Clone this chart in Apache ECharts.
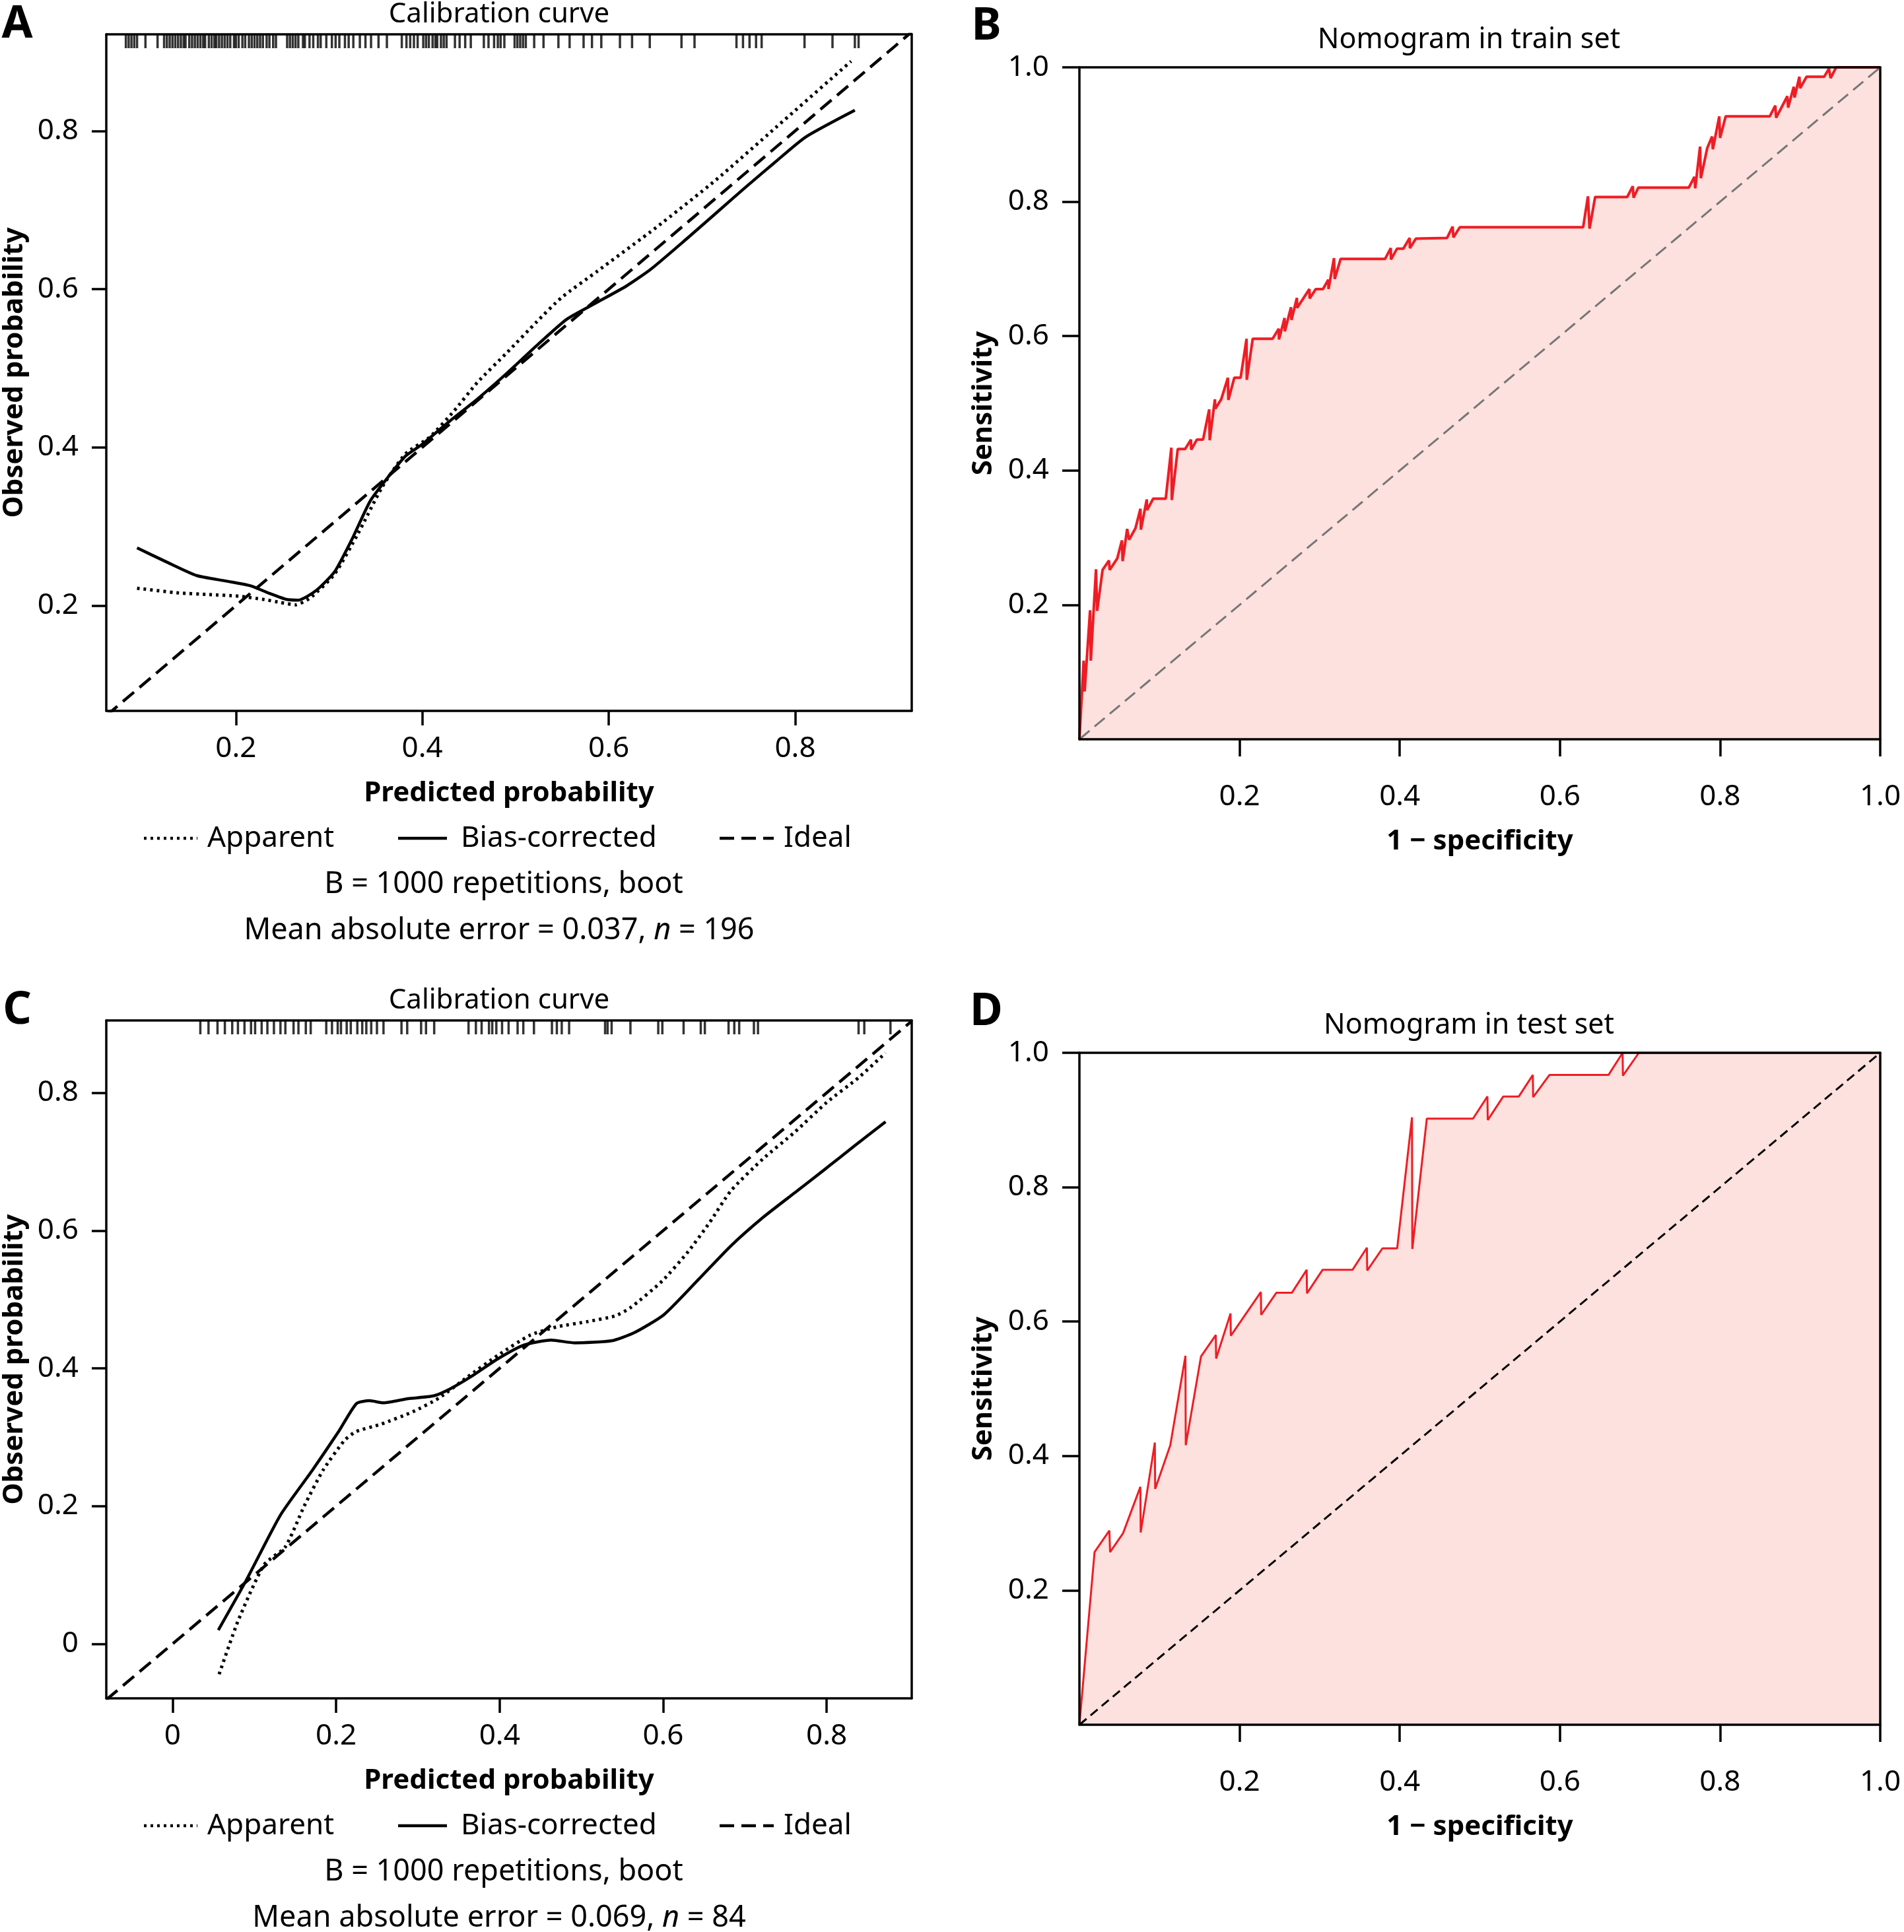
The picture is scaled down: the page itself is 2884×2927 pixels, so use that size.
<!DOCTYPE html>
<html>
<head>
<meta charset="UTF-8">
<title>Calibration and ROC</title>
<script src="https://cdn.jsdelivr.net/npm/echarts@6/dist/echarts.min.js"></script>
<style>
  html, body { margin: 0; background: #fff; }
  #chart { width: 2884px; height: 2927px; }
</style>
</head>
<body>
<div id="chart"></div>
<script>
// calibration curves, [predicted, observed]
const trainApparent = [[0.094,0.222],[0.139,0.216],[0.171,0.214],[0.203,0.212],[0.229,0.208],[0.248,0.204],[0.264,0.201],[0.280,0.210],[0.306,0.240],[0.331,0.291],[0.357,0.350],[0.382,0.392],[0.408,0.413],[0.434,0.446],[0.459,0.482],[0.491,0.520],[0.523,0.559],[0.549,0.589],[0.587,0.622],[0.651,0.678],[0.715,0.738],[0.779,0.804],[0.860,0.888]];
const trainBiasCorrected = [[0.094,0.273],[0.126,0.255],[0.158,0.238],[0.190,0.231],[0.216,0.225],[0.235,0.216],[0.254,0.208],[0.267,0.207],[0.286,0.219],[0.306,0.243],[0.325,0.285],[0.344,0.332],[0.363,0.362],[0.382,0.389],[0.400,0.404],[0.427,0.431],[0.459,0.461],[0.491,0.494],[0.523,0.529],[0.555,0.562],[0.587,0.583],[0.619,0.604],[0.645,0.625],[0.683,0.663],[0.715,0.696],[0.747,0.729],[0.779,0.761],[0.811,0.792],[0.864,0.826]];
const testApparent = [[0.057,-0.044],[0.080,0.033],[0.112,0.115],[0.138,0.141],[0.161,0.200],[0.184,0.252],[0.210,0.295],[0.224,0.308],[0.255,0.319],[0.294,0.337],[0.326,0.357],[0.359,0.386],[0.398,0.419],[0.437,0.448],[0.469,0.460],[0.508,0.468],[0.541,0.476],[0.560,0.488],[0.599,0.527],[0.631,0.570],[0.657,0.612],[0.683,0.658],[0.722,0.704],[0.761,0.743],[0.800,0.786],[0.839,0.822],[0.872,0.858]];
const testBiasCorrected = [[0.056,0.020],[0.090,0.092],[0.132,0.187],[0.171,0.252],[0.203,0.308],[0.225,0.349],[0.241,0.353],[0.258,0.350],[0.288,0.356],[0.319,0.360],[0.339,0.370],[0.365,0.388],[0.398,0.414],[0.430,0.434],[0.463,0.441],[0.492,0.437],[0.537,0.440],[0.565,0.452],[0.601,0.478],[0.644,0.530],[0.683,0.578],[0.722,0.619],[0.761,0.655],[0.800,0.691],[0.834,0.723],[0.872,0.758]];

// predicted probabilities drawn as a rug along the top
const trainRug = [0.082,0.085,0.088,0.091,0.094,0.103,0.116,0.123,0.126,0.129,0.132,0.135,0.138,0.141,0.144,0.146,0.150,0.153,0.156,0.159,0.162,0.165,0.167,0.171,0.174,0.177,0.179,0.182,0.185,0.188,0.191,0.194,0.198,0.200,0.203,0.207,0.210,0.214,0.217,0.220,0.223,0.226,0.229,0.233,0.236,0.240,0.243,0.255,0.258,0.261,0.264,0.267,0.272,0.274,0.279,0.283,0.288,0.291,0.297,0.303,0.307,0.311,0.317,0.321,0.326,0.333,0.339,0.345,0.353,0.362,0.378,0.383,0.387,0.391,0.395,0.401,0.404,0.407,0.411,0.414,0.416,0.420,0.423,0.426,0.435,0.440,0.446,0.452,0.466,0.471,0.477,0.481,0.484,0.488,0.499,0.502,0.505,0.508,0.511,0.520,0.530,0.546,0.558,0.573,0.582,0.592,0.612,0.625,0.644,0.678,0.692,0.737,0.744,0.751,0.758,0.764,0.810,0.840,0.864,0.868];
const testRug = [0.034,0.044,0.055,0.064,0.073,0.080,0.088,0.096,0.101,0.109,0.116,0.124,0.132,0.138,0.148,0.154,0.163,0.169,0.188,0.195,0.202,0.206,0.213,0.218,0.226,0.232,0.237,0.243,0.250,0.258,0.280,0.287,0.304,0.310,0.320,0.362,0.371,0.378,0.387,0.391,0.396,0.403,0.411,0.422,0.429,0.442,0.464,0.470,0.476,0.485,0.529,0.532,0.537,0.560,0.594,0.599,0.625,0.646,0.651,0.680,0.687,0.693,0.711,0.716,0.839,0.846,0.878];

// ROC curves, [1 - specificity, sensitivity]
const trainRoc = [[0,0],[0.0053,0.117],[0.0065,0.071],[0.0133,0.192],[0.0142,0.117],[0.0207,0.253],[0.0221,0.191],[0.0289,0.252],[0.0369,0.266],[0.0378,0.252],[0.0472,0.269],[0.0531,0.296],[0.0540,0.265],[0.0596,0.313],[0.0620,0.297],[0.0700,0.314],[0.0762,0.343],[0.0768,0.312],[0.0841,0.357],[0.0845,0.341],[0.0921,0.358],[0.1078,0.358],[0.1148,0.434],[0.1154,0.356],[0.1228,0.432],[0.1320,0.432],[0.1393,0.446],[0.1396,0.431],[0.1467,0.446],[0.1544,0.446],[0.1621,0.491],[0.1627,0.445],[0.1692,0.506],[0.1697,0.492],[0.1771,0.506],[0.1854,0.538],[0.1860,0.505],[0.1934,0.538],[0.2013,0.538],[0.2087,0.596],[0.2090,0.535],[0.2164,0.596],[0.2412,0.596],[0.2489,0.611],[0.2492,0.595],[0.2562,0.627],[0.2565,0.607],[0.2642,0.643],[0.2648,0.624],[0.2716,0.657],[0.2719,0.642],[0.2872,0.670],[0.2875,0.656],[0.2952,0.670],[0.3041,0.670],[0.3108,0.684],[0.3111,0.670],[0.3179,0.716],[0.3188,0.685],[0.3262,0.715],[0.3817,0.715],[0.3888,0.731],[0.3891,0.714],[0.3965,0.730],[0.4044,0.730],[0.4124,0.746],[0.4127,0.731],[0.4201,0.745],[0.459,0.746],[0.466,0.763],[0.467,0.747],[0.475,0.762],[0.629,0.762],[0.635,0.808],[0.637,0.760],[0.644,0.807],[0.684,0.807],[0.691,0.823],[0.692,0.806],[0.698,0.821],[0.761,0.821],[0.768,0.837],[0.769,0.820],[0.775,0.882],[0.776,0.835],[0.784,0.880],[0.790,0.897],[0.791,0.878],[0.799,0.927],[0.800,0.895],[0.807,0.927],[0.862,0.927],[0.869,0.943],[0.870,0.925],[0.884,0.957],[0.885,0.940],[0.892,0.971],[0.893,0.955],[0.899,0.986],[0.900,0.969],[0.908,0.986],[0.930,0.986],[0.936,0.998],[0.938,0.984],[0.945,1],[1,1]];
const testRoc = [[0,0],[0.0189,0.257],[0.0374,0.289],[0.0383,0.257],[0.0545,0.285],[0.0761,0.354],[0.0765,0.286],[0.0942,0.420],[0.0946,0.351],[0.1135,0.416],[0.1324,0.549],[0.1328,0.416],[0.1518,0.548],[0.1703,0.580],[0.1707,0.545],[0.1887,0.612],[0.1891,0.579],[0.2266,0.644],[0.2270,0.610],[0.2460,0.643],[0.2654,0.643],[0.2838,0.677],[0.2842,0.642],[0.3036,0.677],[0.3410,0.677],[0.3590,0.710],[0.3594,0.676],[0.3784,0.709],[0.3968,0.709],[0.4153,0.904],[0.4157,0.708],[0.4338,0.902],[0.4915,0.902],[0.5095,0.935],[0.5099,0.900],[0.5293,0.935],[0.5487,0.935],[0.5662,0.967],[0.5666,0.934],[0.5869,0.967],[0.6607,0.967],[0.6783,1],[0.6787,0.966],[0.6986,1],[1,1]];

const trainStats = ['AUC = 0.712', 'AUC 95% CI: 0.63\u20130.793', 'Best threshold = 0.312', 'Youden Index = 0.399', 'Sensitivity = 0.716', 'Specificity = 0.682'];
const testStats = ['AUC = 0.794', 'AUC 95% CI: 0.699\u20130.889', 'Best threshold = 0.242', 'Youden Index = 0.488', 'Sensitivity = 0.903', 'Specificity = 0.585'];

// axis ticks and ranges
const trainCalTicks = [0.2, 0.4, 0.6, 0.8];
const testCalTicks = [0, 0.2, 0.4, 0.6, 0.8];
const rocTicks = [0.2, 0.4, 0.6, 0.8, 1.0];
const trainCalX = [0.061, 0.925], trainCalY = [0.067, 0.922];
const testCalX = [-0.081, 0.904], testCalY = [-0.079, 0.905];
const rocRange = [0, 1];

const FONT = '"Noto Sans", "DejaVu Sans", sans-serif';

// A, B, C, D
const grids = [
  { left: 161, top: 52, width: 1220, height: 1025 },
  { left: 1635, top: 102, width: 1213, height: 1018 },
  { left: 161, top: 1546, width: 1220, height: 1027 },
  { left: 1635, top: 1595, width: 1213, height: 1018 }
];

const panels = [
  { x: trainCalX, y: trainCalY, xt: trainCalTicks, yt: trainCalTicks, xName: 'Predicted probability', yName: 'Observed probability', tick: 22, xm: 35, ym: 42, xg: 104, yg: 118 },
  { x: rocRange, y: rocRange, xt: rocTicks, yt: rocTicks, xName: '1 \u2212 specificity', yName: 'Sensitivity', tick: 26, xm: 65, ym: 46, xg: 134, yg: 124 },
  { x: testCalX, y: testCalY, xt: testCalTicks, yt: testCalTicks, xName: 'Predicted probability', yName: 'Observed probability', tick: 22, xm: 35, ym: 42, xg: 104, yg: 118 },
  { x: rocRange, y: rocRange, xt: rocTicks, yt: rocTicks, xName: '1 \u2212 specificity', yName: 'Sensitivity', tick: 26, xm: 65, ym: 46, xg: 134, yg: 124 }
];

function fmt(v) { return v === 0 ? '0' : v.toFixed(1); }

function mainAxis(dim, g, p) {
  const isX = dim === 'x';
  const ticks = isX ? p.xt : p.yt;
  return {
    type: 'value', gridIndex: g, position: isX ? 'bottom' : 'left',
    min: isX ? p.x[0] : p.y[0], max: isX ? p.x[1] : p.y[1], z: 5,
    splitLine: { show: false },
    axisLine: { show: true, onZero: false, lineStyle: { color: '#000', width: 3.5 } },
    axisTick: { show: true, customValues: ticks, length: p.tick, lineStyle: { color: '#000', width: 3.5 } },
    axisLabel: { show: true, customValues: ticks, formatter: fmt, margin: isX ? p.xm : p.ym, fontSize: 44, fontFamily: FONT, color: '#000' },
    name: isX ? p.xName : p.yName, nameLocation: 'middle', nameGap: isX ? p.xg : p.yg,
    nameRotate: isX ? 0 : 90,
    nameTextStyle: { fontSize: 42, fontWeight: 'bold', fontFamily: FONT, color: '#000' }
  };
}

function boxAxis(dim, g, p) {
  const isX = dim === 'x';
  return {
    type: 'value', gridIndex: g, position: isX ? 'top' : 'right',
    min: isX ? p.x[0] : p.y[0], max: isX ? p.x[1] : p.y[1], z: 5,
    splitLine: { show: false }, axisTick: { show: false }, axisLabel: { show: false },
    axisLine: { show: true, onZero: false, lineStyle: { color: '#000', width: 3.5 } }
  };
}

const xAxis = [], yAxis = [];
panels.forEach((p, g) => {
  xAxis.push(mainAxis('x', g, p), boxAxis('x', g, p));
  yAxis.push(mainAxis('y', g, p), boxAxis('y', g, p));
});

const DOTS = [4, 6], DASH = [22, 11];

function calSeries(g, apparent, bias, rug, xr, yr) {
  const ax = { xAxisIndex: 2 * g, yAxisIndex: 2 * g };
  return [
    Object.assign({ type: 'line', data: [[xr[0], xr[0]], [xr[1], xr[1]]], symbol: 'none', silent: true,
      lineStyle: { color: '#000', width: 4.5, type: DASH } }, ax),
    Object.assign({ type: 'line', data: apparent, symbol: 'none', smooth: 0.2,
      lineStyle: { color: '#000', width: 5, type: DOTS } }, ax),
    Object.assign({ type: 'line', data: bias, symbol: 'none', smooth: 0.2,
      lineStyle: { color: '#000', width: 4.5, type: 'solid' } }, ax),
    Object.assign({ type: 'scatter', data: rug.map(v => [v, yr[1]]), symbol: 'rect', symbolSize: [3.5, 20],
      symbolOffset: [0, 11], clip: false, itemStyle: { color: '#000' } }, ax)
  ];
}

function rocSeries(g, roc, diagColor, diagDash, lw) {
  const ax = { xAxisIndex: 2 * g, yAxisIndex: 2 * g };
  return [
    Object.assign({ type: 'line', data: roc, symbol: 'none',
      lineStyle: { color: '#ee1d25', width: lw },
      areaStyle: { color: '#fce1de', opacity: 1, origin: 'start' } }, ax),
    Object.assign({ type: 'line', data: [[0, 0], [1, 1]], symbol: 'none',
      lineStyle: { color: diagColor, width: 3, type: diagDash } }, ax)
  ];
}

const series = [].concat(
  calSeries(0, trainApparent, trainBiasCorrected, trainRug, trainCalX, trainCalY),
  rocSeries(1, trainRoc, '#767676', [20, 10], 4),
  calSeries(2, testApparent, testBiasCorrected, testRug, testCalX, testCalY),
  rocSeries(3, testRoc, '#000', [14, 8], 3)
);

function txt(x, y, text, size, opts) {
  return {
    type: 'text', x: x, y: y, silent: true,
    style: Object.assign({ text: text, fontSize: size, fontFamily: FONT, fill: '#000',
      align: 'center', verticalAlign: 'middle', textAlign: 'center', textVerticalAlign: 'middle' }, opts || {})
  };
}
function seg(x1, x2, y, dash, w) {
  return { type: 'line', silent: true, shape: { x1: x1, y1: y, x2: x2, y2: y },
    style: { stroke: '#000', lineWidth: w, lineDash: dash } };
}

const graphics = [];
const panelLetters = [['A', 26, 38], ['B', 1494, 41], ['C', 26, 1532], ['D', 1494, 1534]];
panelLetters.forEach(l => graphics.push(txt(l[1], l[2], l[0], 68, { fontWeight: 'bold' })));
graphics.push(txt(756, 22, 'Calibration curve', 42));
graphics.push(txt(756, 1516, 'Calibration curve', 42));
graphics.push(txt(2225, 61, 'Nomogram in train set', 43));
graphics.push(txt(2225, 1554, 'Nomogram in test set', 43));

const LEFT = { align: 'left', textAlign: 'left' };
function calFooter(yb, mae, n) {
  const ly = yb + 193;
  graphics.push(seg(218, 299, ly, DOTS, 4.5));
  graphics.push(txt(314, ly, 'Apparent', 44, LEFT));
  graphics.push(seg(603, 677, ly, null, 4.5));
  graphics.push(txt(698, ly, 'Bias-corrected', 44, LEFT));
  graphics.push(seg(1090, 1172, ly, DASH, 4.5));
  graphics.push(txt(1187, ly, 'Ideal', 44, LEFT));
  graphics.push(txt(763, yb + 263, 'B = 1000 repetitions, boot', 45));
  graphics.push(txt(756, yb + 333, 'Mean absolute error = ' + mae + ', {i|n} = ' + n, 45, {
    rich: { i: { fontStyle: 'italic', fontSize: 45, fontFamily: FONT, fill: '#000' } }
  }));
}
calFooter(1077, '0.037', 196);
calFooter(2573, '0.069', 84);

function rocStats(top, stats) {
  stats.forEach((s, i) => graphics.push(txt(2322, top + 623 + i * 69.6, s, 45, LEFT)));
}
rocStats(102, trainStats);
rocStats(1595, testStats);

const chart = echarts.init(document.getElementById('chart'), null, { renderer: 'canvas', width: 2884, height: 2927 });
chart.setOption({
  backgroundColor: '#fff',
  animation: false,
  grid: grids,
  xAxis: xAxis,
  yAxis: yAxis,
  series: series,
  graphic: { elements: graphics }
});
</script>
</body>
</html>
